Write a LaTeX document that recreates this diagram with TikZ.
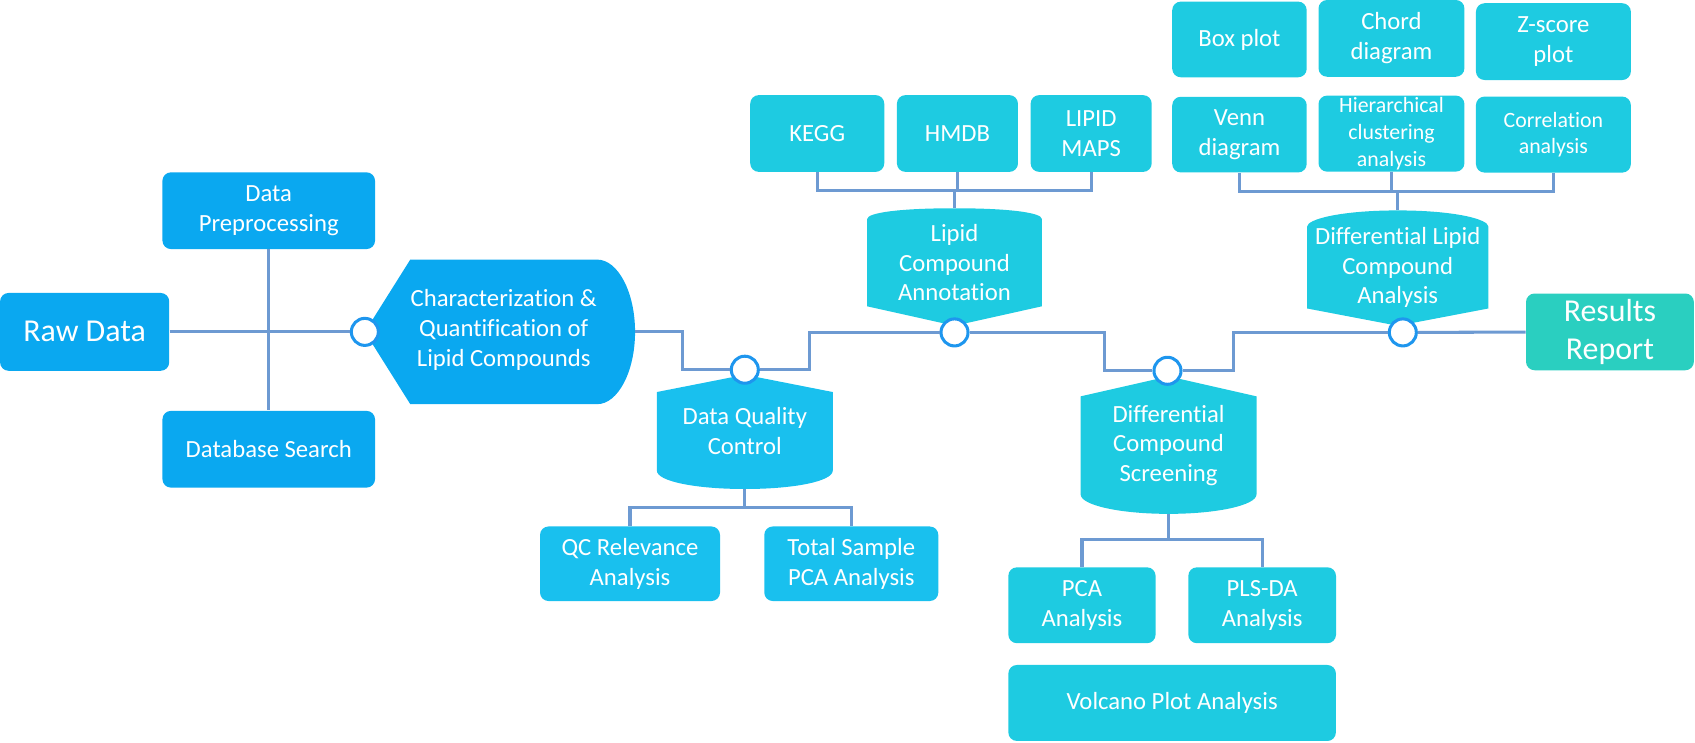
\documentclass[tikz,border=0pt]{standalone}
\usepackage{fontspec}
\setmainfont{Carlito}[Ligatures=NoCommon]
\usepackage{tikz}
\usetikzlibrary{positioning,calc,backgrounds}
\definecolor{rawblue}{HTML}{0AA8F0}
\definecolor{qcblue}{HTML}{19C0EE}
\definecolor{lipcyan}{HTML}{1ECBE1}
\definecolor{resteal}{HTML}{2ACFC0}
\definecolor{linkblue}{HTML}{6D9AD2}
\definecolor{hubblue}{HTML}{1E96EE}

\begin{document}
\begin{tikzpicture}[x=0.02cm,y=-0.02cm,
	every node/.style={text=white,align=center,inner sep=0pt,font=\fontsize{13}{15.7}\selectfont},
	box/.style 2 args={fill=lipcyan,rounded corners=4.5pt,minimum width=#1*0.02cm,minimum height=#2*0.02cm},
	blob/.style 2 args={minimum width=#1*0.02cm,minimum height=#2*0.02cm},
	hub/.style={circle,draw=hubblue,line width=1.6pt,fill=white,minimum size=25*0.02cm},
	link/.style={draw=linkblue,line width=1.6pt},
	big/.style={font=\fontsize{16.8}{20.1}\selectfont},
	small/.style={font=\fontsize{11.5}{14}\selectfont}]
	\useasboundingbox (0,0) rectangle (1568,686.4);

	\node[box={156.5}{72},fill=rawblue,big] (raw) at (78.3,307) {Raw Data};
	\node[box={196.7}{71},fill=rawblue] (prep) at (248.6,194.9) {Data\\Preprocessing};
	\node[box={196.7}{71},fill=rawblue,below=2.98cm of prep] (dbs) {Database Search};
	\node[hub] (c1) at (337.5,307) {};
	\node[blob={172}{133}] (char) at (466,305) {Characterization \&\\Quantification of\\Lipid Compounds};

	\node[hub] (c2) at (689,342) {};
	\node[blob={162}{72}] (dqc) at (689,399) {Data Quality\\Control};
	\node[box={166.5}{69},fill=qcblue] (qcrel) at (582.8,521.5) {QC Relevance\\Analysis};
	\node[box={161}{69},fill=qcblue] (pcaall) at (787.5,521.5) {Total Sample\\PCA Analysis};

	\node[hub] (c3) at (883,307.5) {};
	\node[blob={161}{80}] (lca) at (883,243) {Lipid\\Compound\\Annotation};
	\node[box={124}{71}] (kegg) at (756,123.5) {KEGG};
	\node[box={112}{71},right=0.22cm of kegg] (hmdb) {HMDB};
	\node[box={112}{71},right=0.22cm of hmdb] (lmaps) {LIPID\\MAPS};

	\node[hub] (c4) at (1080,343) {};
	\node[blob={162}{90}] (dcs) at (1081,412) {Differential\\Compound\\Screening};
	\node[box={136.2}{70.2}] (pca) at (1000.9,559.9) {PCA\\Analysis};
	\node[box={136.6}{70.2}] (plsda) at (1167.6,559.9) {PLS-DA\\Analysis};
	\node[box={303}{70.3}] (volcano) at (1084.3,650.3) {Volcano Plot Analysis};

	\node[hub] (c5) at (1297.7,307.5) {};
	\node[blob={167}{75}] (dlca) at (1293,247.5) {Differential Lipid\\Compound\\Analysis};
	\node[box={124.4}{70}] (venn) at (1146.6,124.5) {Venn\\diagram};
	\node[box={135}{70.3},small] (hier) at (1287.2,123.6) {Hierarchical\\clustering\\analysis};
	\node[box={143.3}{70.3},small] (corr) at (1437,124.5) {Correlation\\analysis};
	\node[box={124.4}{70}] (boxplot) at (1146.6,36.5) {Box plot};
	\node[box={135}{71}] (chord) at (1287.2,35.5) {Chord\\diagram};
	\node[box={143.3}{71}] (zscore) at (1437,38.5) {Z-score\\plot};
	\node[box={155.3}{71},fill=resteal,big] (results) at (1489.3,307) {Results\\Report};

	\coordinate (chartip) at ($(char.east)+(35,2)$);
	\coordinate (dqctop) at ($(dqc.north)+(0,-16)$);
	\coordinate (dqcbot) at ($(dqc.south)+(0,17)$);
	\coordinate (lcatop) at ($(lca.north)+(0,-10)$);
	\coordinate (lcabot) at ($(lca.south)+(0,18)$);
	\coordinate (dcstop) at ($(dcs.north)+(0,-18.5)$);
	\coordinate (dcsbot) at ($(dcs.south)+(0,18)$);
	\coordinate (dlcatop) at ($(dlca.north)+(0,-15)$);
	\coordinate (dlcabot) at ($(dlca.south)+(0,16)$);
	\coordinate (j1) at (631,325);
	\coordinate (j2) at (749,325);
	\coordinate (j3) at (1022,325);
	\coordinate (j4) at (1141,325);
	\coordinate (bar1) at (883,176.5);
	\coordinate (bar2) at (1293,177.3);
	\coordinate (bar3) at (689,469.6);
	\coordinate (bar4) at (1081,499);

	\begin{scope}[on background layer]
		\fill[rawblue] ($(char.north west)+(0,2)$) -- ($(char.north east)+(0,2)$)
			.. controls +(19,0) and +(0,-37) .. (chartip)
			.. controls +(0,37) and +(19,0) .. ($(char.south east)+(0,2)$)
			-- ($(char.south west)+(0,2)$) -- (c1.center) -- cycle;
		\fill[qcblue] (dqc.north west) -- (dqctop) -- (dqc.north east) -- (dqc.south east)
			.. controls +(0,10) and +(45,0) .. (dqcbot)
			.. controls +(-45,0) and +(0,10) .. (dqc.south west) -- cycle;
		\fill[lipcyan] (dcs.north west) -- (dcstop) -- (dcs.north east) -- (dcs.south east)
			.. controls +(0,10) and +(45,0) .. (dcsbot)
			.. controls +(-45,0) and +(0,10) .. (dcs.south west) -- cycle;
		\fill[lipcyan] (lca.south west) -- (lca.north west)
			.. controls +(0,-6) and +(-50,0) .. (lcatop)
			.. controls +(50,0) and +(0,-6) .. (lca.north east)
			-- (lca.south east) -- (lcabot) -- cycle;
		\fill[lipcyan] (dlca.south west) -- (dlca.north west)
			.. controls +(0,-7) and +(-52,0) .. (dlcatop)
			.. controls +(52,0) and +(0,-7) .. (dlca.north east)
			-- (dlca.south east) -- (dlcabot) -- cycle;
	\end{scope}

	\draw[link] (raw) -- (c1);
	\draw[link] (prep) -- (dbs);
	\draw[link] (chartip) -| (j1) |- (c2);
	\draw[link] (c2) -| (j2) |- (c3);
	\draw[link] (c3) -| (j3) |- (c4);
	\draw[link] (c4) -| (j4) |- (c5);
	\draw[link] (c5) -- (results);
	\draw[link] (lcatop) -- (bar1);
	\draw[link] (kegg) |- (bar1) -| (lmaps);
	\draw[link] (hmdb) -- (hmdb |- bar1);
	\draw[link] (dlcatop) -- (bar2);
	\draw[link] (venn) |- (bar2) -| (corr);
	\draw[link] (hier) -- (hier |- bar2);
	\draw[link] (dqcbot) -- (bar3);
	\draw[link] (qcrel) |- (bar3) -| (pcaall);
	\draw[link] (dcsbot) -- (bar4);
	\draw[link] (pca) |- (bar4) -| (plsda);
\end{tikzpicture}
\end{document}
